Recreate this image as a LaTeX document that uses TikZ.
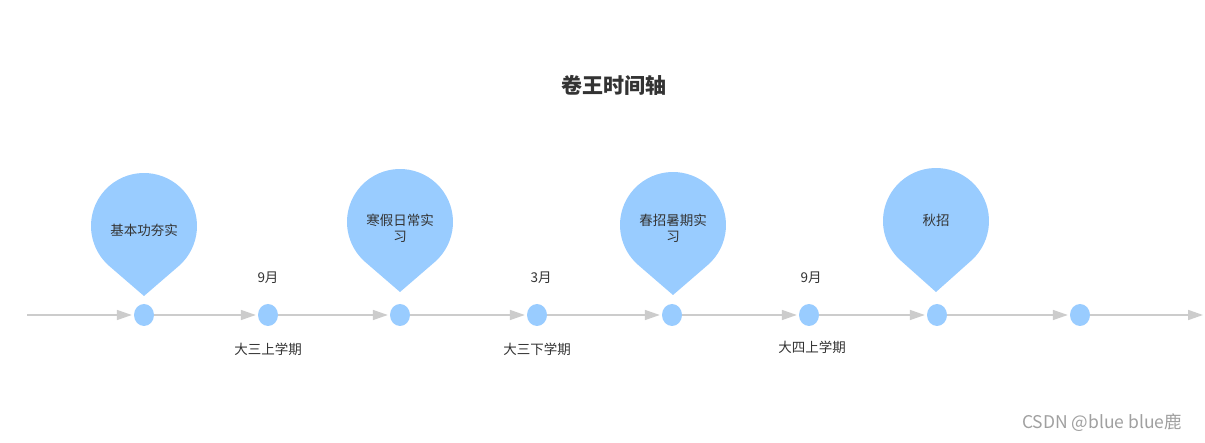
\documentclass[tikz,border=0pt]{standalone}
\usepackage{fontspec}
\setmainfont{Noto Sans CJK SC}
\newfontfamily\cjk{Noto Sans CJK SC}
\usetikzlibrary{arrows.meta,shapes.geometric}
\definecolor{pinblue}{HTML}{99CCFF}
\definecolor{axisgray}{HTML}{CCCCCC}
\definecolor{txt}{HTML}{333333}
\definecolor{wm}{HTML}{A0A0A0}
\tikzset{
  dotnode/.style={ellipse,fill=pinblue,minimum width=20pt,minimum height=22pt,inner sep=0pt},
  axisarrow/.style={draw=axisgray,line width=1.6pt,-{Triangle[length=15pt,width=10pt]},shorten >=2pt},
  pintext/.style={text=txt,font=\cjk\fontsize{13.5}{16}\selectfont,align=center},
  lbl/.style={text=txt,font=\cjk\fontsize{13.5}{16}\selectfont},
}
\newcommand{\pinshape}[3]{%
  \pgfmathsetmacro{\pa}{acos(53/(#2-#3))}%
  \fill[pinblue] (#1,#3) -- ([shift={(#1,#2)}]-90+\pa:53pt)
    arc[start angle=-90+\pa, end angle=270-\pa, radius=53pt] -- cycle;}
\begin{document}
\begin{tikzpicture}[x=1pt,y=1pt]
\useasboundingbox (0,0) rectangle (1205,442);
\fill[white] (0,0) rectangle (1205,442);
% title
\node[text=txt,font=\cjk\bfseries\fontsize{21}{24}\selectfont] (title) at (614,357) {卷王时间轴};
% pins
\pinshape{144}{216}{146}
\pinshape{400}{220}{150}
\pinshape{673}{217}{147}
\pinshape{936}{221}{150}
\node[pintext] (p1) at (144,212) {基本功夯实};
\node[pintext] (p2) at (400,213.5) {寒假日常实\\习};
\node[pintext] (p3) at (673,213.5) {春招暑期实\\习};
\node[pintext] (p4) at (936,222) {秋招};
% axis
\coordinate (start) at (27,127);
\coordinate (end) at (1203,127);
\node[dotnode] (d1) at (144,127) {};
\node[dotnode] (d2) at (268,127) {};
\node[dotnode] (d3) at (400,127) {};
\node[dotnode] (d4) at (537,127) {};
\node[dotnode] (d5) at (672,127) {};
\node[dotnode] (d6) at (809,127) {};
\node[dotnode] (d7) at (937,127) {};
\node[dotnode] (d8) at (1080,127) {};
\draw[axisarrow] (start) -- (d1.west);
\draw[axisarrow] (d1.east) -- (d2.west);
\draw[axisarrow] (d2.east) -- (d3.west);
\draw[axisarrow] (d3.east) -- (d4.west);
\draw[axisarrow] (d4.east) -- (d5.west);
\draw[axisarrow] (d5.east) -- (d6.west);
\draw[axisarrow] (d6.east) -- (d7.west);
\draw[axisarrow] (d7.east) -- (d8.west);
\draw[axisarrow,shorten >=0pt] (d8.east) -- (end);
% labels
\node[lbl] (m1) at (268,164) {9月};
\node[lbl] (s1) at (268,93) {大三上学期};
\node[lbl] (m2) at (541,164) {3月};
\node[lbl] (s2) at (537,93) {大三下学期};
\node[lbl] (m3) at (811,164) {9月};
\node[lbl] (s3) at (812,95) {大四上学期};
% watermark
\node[text=wm,font=\cjk\fontsize{17.5}{20}\selectfont] (wmk) at (1102,19) {CSDN @blue blue鹿};
\end{tikzpicture}
\end{document}
